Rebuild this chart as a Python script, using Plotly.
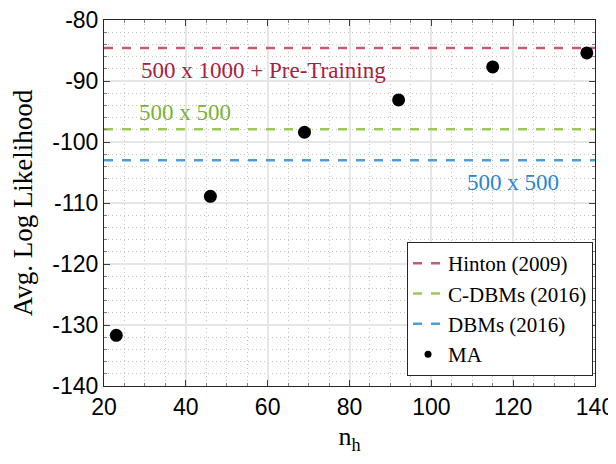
import plotly.graph_objects as go

n_h = [23, 46, 69, 92, 115, 138]
ma_values = [-131.7, -108.9, -98.4, -93.1, -87.7, -85.4]

ref_names = ["Hinton (2009)", "C-DBMs (2016)", "DBMs (2016)"]
ref_values = [-84.6, -97.9, -103.0]
ref_line_colors = ["#C85A70", "#9CC85A", "#4C9ED8"]
ref_text_colors = ["#A8203F", "#7BB331", "#2A87CC"]
ref_labels = ["500 x 1000 + Pre-Training", "500 x 500", "500 x 500"]
label_x = [59.0, 39.8, 120.0]
label_y = [-88.2, -95.2, -106.7]

x_range = [20, 140]
y_range = [-140, -80]
x_tickvals = [20, 40, 60, 80, 100, 120, 140]
y_tickvals = [-140, -130, -120, -110, -100, -90, -80]
y_ticktext = ["-140", "-130", "-120", "-110", "-100", "-90", "-80"]

fig = go.Figure()
for name, val, col in zip(ref_names, ref_values, ref_line_colors):
    fig.add_trace(go.Scatter(
        x=x_range, y=[val, val], mode="lines", name=name,
        line=dict(color=col, width=2.5, dash="dash"),
    ))
fig.add_trace(go.Scatter(
    x=n_h, y=ma_values, mode="markers", name="MA", showlegend=False,
    marker=dict(color="black", size=13),
))
# legend entry for MA with a small marker
fig.add_trace(go.Scatter(
    x=[None], y=[None], mode="markers", name="MA",
    marker=dict(color="black", size=7),
))

for txt, lx, ly, col in zip(ref_labels, label_x, label_y, ref_text_colors):
    fig.add_annotation(x=lx, y=ly, xref="x", yref="y", text=txt, showarrow=False,
                       font=dict(family="Liberation Serif", size=23, color=col))

grid_major = "#E6E6E6"
grid_minor = "#C4C4C4"
axis_common = dict(
    showline=True, linecolor="#262626", linewidth=1, mirror="allticks",
    ticks="inside", ticklen=6, tickcolor="#404040",
    showgrid=True, gridcolor=grid_major, gridwidth=1.5,
    zeroline=False, automargin=False, ticklabeloverflow="allow",
    tickfont=dict(family="Liberation Sans", size=23, color="black"),
)
fig.update_xaxes(
    range=x_range, tickvals=x_tickvals,
    minor=dict(dtick=5, showgrid=True, gridcolor=grid_minor, griddash="1px,3px", gridwidth=1,
               ticks="inside", ticklen=3, tickcolor="#808080"),
    title=dict(text="n<sub>h</sub>", font=dict(family="Liberation Serif", size=26, color="black"), standoff=8),
    **axis_common,
)
fig.update_yaxes(
    range=y_range, tickvals=y_tickvals, ticktext=y_ticktext,
    minor=dict(dtick=2, showgrid=True, gridcolor=grid_minor, griddash="1px,3px", gridwidth=1,
               ticks="inside", ticklen=3, tickcolor="#808080"),
    title=dict(text="Avg. Log Likelihood", font=dict(family="Liberation Serif", size=27, color="black"), standoff=16),
    **axis_common,
)

fig.update_layout(
    width=608, height=456,
    margin=dict(l=96, r=21, t=12, b=78),
    plot_bgcolor="white", paper_bgcolor="white",
    showlegend=True,
    legend=dict(x=0.996, y=0.027, xanchor="right", yanchor="bottom",
                bgcolor="white", bordercolor="#262626", borderwidth=1,
                font=dict(family="Liberation Serif", size=21, color="black"),
                tracegroupgap=0, itemwidth=30),
)

fig.write_html("out.html")
